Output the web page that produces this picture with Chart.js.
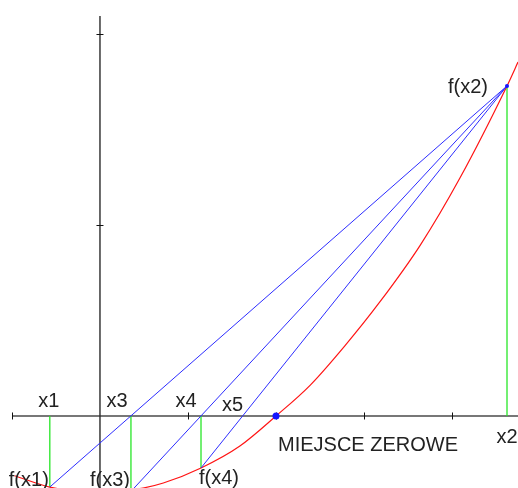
<!DOCTYPE html>
<html>
<head>
<meta charset="utf-8">
<script src="https://cdn.jsdelivr.net/npm/chart.js@4.4.1/dist/chart.umd.min.js"></script>
<style>
  html, body { margin: 0; padding: 0; background: #ffffff; }
  #wrap { width: 518px; height: 488px; }
</style>
</head>
<body>
<div id="wrap"><canvas id="c" width="518" height="488"></canvas></div>
<script>
// Red curve f(x)
const curveX = [-0.97, -0.57, 0.0, 0.49, 0.72, 1.148, 1.59, 2.0, 2.39, 2.78, 3.18, 3.64, 4.09, 4.625, 4.75, 4.9];
const curveY = [-0.313, -0.372, -0.403, -0.377, -0.351, -0.272, -0.157, 0.0, 0.162, 0.366, 0.597, 0.895, 1.246, 1.728, 1.853, 2.005];

// Iteration points (regula falsi)
const iterNames = ['x1', 'x3', 'x4', 'x2'];
const iterX = [-0.57, 0.352, 1.148, 4.625];
const iterF = [-0.372, -0.395, -0.272, 1.728];
const x5 = 1.621;
const root = 2.0;

// Axis ticks
const xTicks = [-1, 1, 2, 3, 4];
const yTicks = [1, 2];
const xAxisStart = -1;
const yAxisTop = 2.094;

const BLUE = 'rgb(45,45,255)';
const GREEN = 'rgb(40,230,40)';
const RED = 'rgb(255,20,20)';

const x2i = 3;
const datasets = [];
datasets.push({
  data: curveX.map((x, i) => ({ x: x, y: curveY[i] })),
  borderColor: RED, borderWidth: 1.2, pointRadius: 0,
  showLine: true, cubicInterpolationMode: 'monotone', order: 2
});
// secant lines from f(x2) to f(x1), f(x3), f(x4)
for (let i = 0; i < 3; i++) {
  datasets.push({
    data: [{ x: iterX[x2i], y: iterF[x2i] }, { x: iterX[i], y: iterF[i] }],
    borderColor: BLUE, borderWidth: 1, pointRadius: 0, showLine: true, order: 1
  });
}
// green verticals
for (let i = 0; i < iterX.length; i++) {
  datasets.push({
    data: [{ x: iterX[i], y: 0 }, { x: iterX[i], y: iterF[i] }],
    borderColor: GREEN, borderWidth: 1.3, pointRadius: 0, showLine: true, order: 3
  });
}
// dots
datasets.push({
  data: [{ x: root, y: 0 }, { x: iterX[x2i], y: iterF[x2i] }],
  showLine: false, pointRadius: [3.5, 2], backgroundColor: 'rgb(20,20,255)',
  borderWidth: 0, order: 0
});

const axesPlugin = {
  id: 'axesPlugin',
  beforeDatasetsDraw(chart) {
    const { ctx, scales: { x, y } } = chart;
    const ox = x.getPixelForValue(0), oy = y.getPixelForValue(0);
    ctx.save();
    ctx.strokeStyle = '#4a4a4a';
    ctx.lineWidth = 1.6;
    ctx.beginPath();
    ctx.moveTo(x.getPixelForValue(xAxisStart), oy);
    ctx.lineTo(x.right, oy);
    ctx.stroke();
    ctx.strokeStyle = '#2a2a2a';
    ctx.lineWidth = 1.4;
    ctx.beginPath();
    ctx.moveTo(ox, y.getPixelForValue(yAxisTop));
    ctx.lineTo(ox, y.bottom);
    ctx.stroke();
    ctx.strokeStyle = '#111';
    ctx.lineWidth = 1;
    xTicks.forEach(v => {
      const px = Math.round(x.getPixelForValue(v)) + 0.5;
      ctx.beginPath(); ctx.moveTo(px, oy - 3.5); ctx.lineTo(px, oy + 3.5); ctx.stroke();
    });
    yTicks.forEach(v => {
      const py = Math.round(y.getPixelForValue(v)) + 0.5;
      ctx.beginPath(); ctx.moveTo(ox - 3.5, py); ctx.lineTo(ox + 3.5, py); ctx.stroke();
    });
    ctx.restore();
  }
};

const labelsPlugin = {
  id: 'labelsPlugin',
  afterDatasetsDraw(chart) {
    const { ctx, scales: { x, y } } = chart;
    const put = (text, vx, vy, dx, dy, align) => {
      ctx.textAlign = align || 'center';
      ctx.fillText(text, x.getPixelForValue(vx) + dx, y.getPixelForValue(vy) + dy);
    };
    ctx.save();
    ctx.fillStyle = '#222';
    ctx.textBaseline = 'alphabetic';
    ctx.font = '20px "Liberation Sans", Arial, sans-serif';
    put(iterNames[0], iterX[0], 0, -1, -9);
    put(iterNames[1], iterX[1], 0, -14, -9);
    put(iterNames[2], iterX[2], 0, -15, -9);
    put('x5', x5, 0, -10, -5);
    put(iterNames[3], iterX[3], 0, 0, 27);
    put('f(' + iterNames[0] + ')', iterX[0], iterF[0], -21, -1);
    put('f(' + iterNames[1] + ')', iterX[1], iterF[1], -21, -5);
    put('f(' + iterNames[2] + ')', iterX[2], iterF[2], 18, 16);
    put('f(' + iterNames[3] + ')', iterX[3], iterF[3], -39, 7);
    put('MIEJSCE ZEROWE', root, 0, 2, 35, 'left');
    ctx.restore();
  }
};

new Chart(document.getElementById('c'), {
  type: 'scatter',
  data: { datasets: datasets },
  options: {
    responsive: false,
    animation: false,
    layout: { padding: 0, autoPadding: false },
    plugins: { legend: { display: false }, tooltip: { enabled: false } },
    scales: {
      x: { type: 'linear', display: false, min: -1.136, max: 4.75 },
      y: { type: 'linear', display: false, min: -0.377, max: 2.178 }
    }
  },
  plugins: [axesPlugin, labelsPlugin]
});
</script>
</body>
</html>
